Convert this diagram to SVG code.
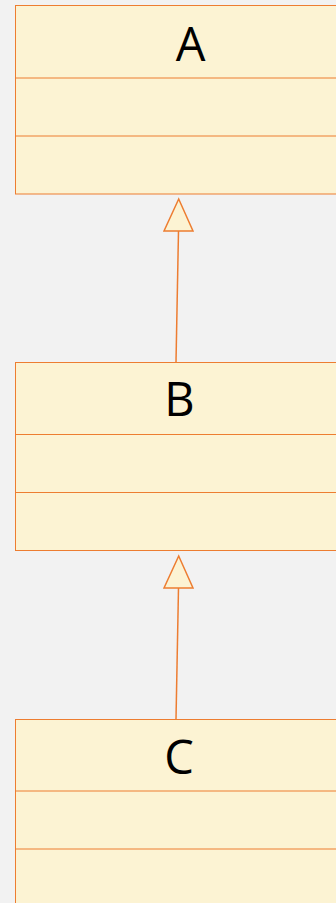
<svg xmlns="http://www.w3.org/2000/svg" width="336" height="903" viewBox="0 0 336 903">
<style>
.box{fill:#FCF3D3;stroke:#ED7D31;stroke-width:1}
.div{stroke:#ED7D31;stroke-width:1}
.t{font-family:"Open Sans","Noto Sans",sans-serif;font-size:47px;fill:#000;text-anchor:middle}
.edge{stroke:#ED7D31;stroke-width:1.5;fill:none}
.head{fill:#FCF3D3;stroke:#ED7D31;stroke-width:1.5}
</style>
<rect width="336" height="903" fill="#F2F2F2"/>
<g id="A">
<rect class="box" x="15.5" y="5.5" width="330" height="188.5"/>
<line class="div" x1="15.5" y1="78" x2="336" y2="78"/>
<line class="div" x1="15.5" y1="136" x2="336" y2="136"/>
<text class="t" x="190.5" y="61">A</text>
</g>
<g id="B">
<rect class="box" x="15.5" y="362.5" width="330" height="188"/>
<line class="div" x1="15.5" y1="434.5" x2="336" y2="434.5"/>
<line class="div" x1="15.5" y1="492.5" x2="336" y2="492.5"/>
<text class="t" x="179.5" y="416">B</text>
</g>
<g id="C">
<rect class="box" x="15.5" y="719.5" width="330" height="200"/>
<line class="div" x1="15.5" y1="791" x2="336" y2="791"/>
<line class="div" x1="15.5" y1="849" x2="336" y2="849"/>
<text class="t" x="179" y="774">C</text>
</g>
<g id="connectors">
<line class="edge" x1="176" y1="362" x2="178.5" y2="231"/>
<polygon class="head" points="178.7,199 164,231 193,231"/>
<line class="edge" x1="176" y1="719" x2="178.5" y2="588"/>
<polygon class="head" points="178.7,556 164,588 193,588"/>
</g>
</svg>
